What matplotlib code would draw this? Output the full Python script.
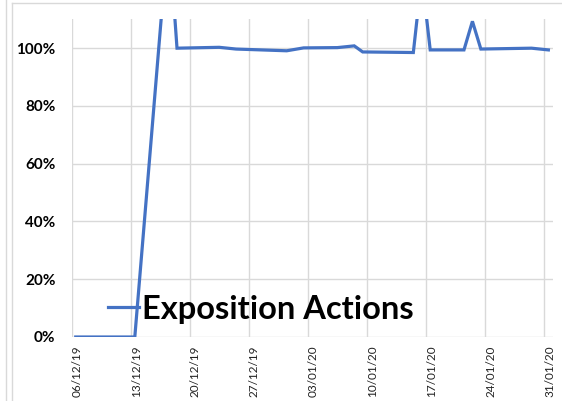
import datetime as dt
import matplotlib
matplotlib.use("Agg")
import matplotlib.pyplot as plt
import matplotlib.dates as mdates
from matplotlib.lines import Line2D
from matplotlib.ticker import FixedLocator, PercentFormatter

# data (points sit in the middle of each day slot)
dates = ["06/12/19", "13/12/19", "17/12/19", "18/12/19", "23/12/19", "25/12/19",
         "31/12/19", "02/01/20", "06/01/20", "08/01/20", "09/01/20", "15/01/20",
         "16/01/20", "17/01/20", "21/01/20", "22/01/20", "23/01/20", "29/01/20",
         "31/01/20"]
values = [0.0, 0.0, 1.41, 1.0, 1.003, 0.997,
          0.991, 1.001, 1.002, 1.008, 0.987, 0.985,
          1.25, 0.994, 0.994, 1.093, 0.997, 1.0,
          0.994]
tick_dates = ["06/12/19", "13/12/19", "20/12/19", "27/12/19", "03/01/20",
              "10/01/20", "17/01/20", "24/01/20", "31/01/20"]
y_ticks = [0, 0.2, 0.4, 0.6, 0.8, 1.0]
series_name = "Exposition Actions"

def to_num(s):
    return mdates.date2num(dt.datetime.strptime(s, "%d/%m/%y"))

x = [to_num(d) + 0.5 for d in dates]
xt = [to_num(d) for d in tick_dates]

W, H = 562, 401
fig = plt.figure(figsize=(W / 100, H / 100), dpi=100)
ax_l, ax_r, ax_t, ax_b = 71.5, 552.6, 19.3, 337
ax = fig.add_axes([ax_l / W, 1 - ax_b / H, (ax_r - ax_l) / W, (ax_b - ax_t) / H])

grid_c = "#d9d9d9"
line, = ax.plot(x, values, color="#4472c4", lw=2.3, solid_joinstyle="miter", zorder=3)

ax.set_xlim(to_num("06/12/19"), to_num("01/02/20"))
ax.set_ylim(0, 1.1)
ax.xaxis.set_major_locator(FixedLocator(xt))
ax.xaxis.set_major_formatter(mdates.DateFormatter("%d/%m/%y"))
ax.yaxis.set_major_locator(FixedLocator(y_ticks))
ax.yaxis.set_major_formatter(PercentFormatter(1.0, decimals=0))
ax.grid(True, color=grid_c, lw=1.0)
ax.set_axisbelow(True)
for s in ax.spines.values():
    s.set_visible(False)
ax.tick_params(length=0)
ax.tick_params(axis="y", pad=11.5)
ax.tick_params(axis="x", pad=6, labelrotation=90)
for lab in ax.get_yticklabels():
    lab.set_fontfamily("Lato")
    lab.set_fontweight("bold")
    lab.set_fontsize(11)
for lab in ax.get_xticklabels():
    lab.set_fontfamily("Lato")
    lab.set_fontsize(8.5)
    lab.set_ha("left")
    lab.set_color("#222222")

leg = ax.legend([line], [series_name], loc="center left",
                bbox_to_anchor=((108 - ax_l) / (ax_r - ax_l), (ax_b - 309) / (ax_b - ax_t)),
                frameon=False, handlelength=0.95, handletextpad=0.1,
                borderpad=0, borderaxespad=0,
                prop={"family": "Lato", "weight": "bold", "size": 23.5})

# chart frame and sheet cell border
fig.add_artist(Line2D([6.5 / W, 6.5 / W], [0, 1], color=grid_c, lw=1))
fig.add_artist(Line2D([11.7 / W, 11.7 / W], [0, 1 - 2.7 / H], color=grid_c, lw=1))
fig.add_artist(Line2D([11.7 / W, 1], [1 - 2.7 / H, 1 - 2.7 / H], color=grid_c, lw=1))

fig.savefig("out.png", dpi=100)
